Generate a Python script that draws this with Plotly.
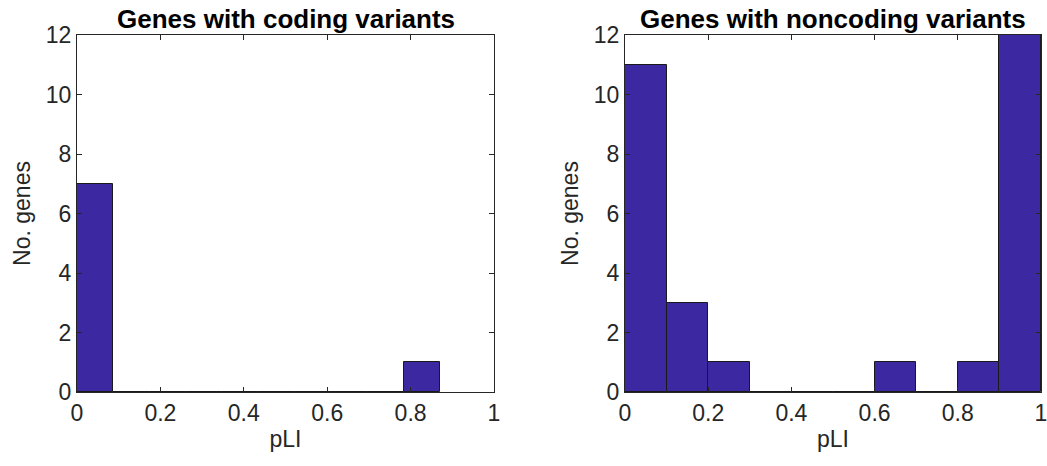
import plotly.graph_objects as go

# Data
coding_edges = [0.0, 0.087, 0.174, 0.261, 0.348, 0.435, 0.522, 0.609, 0.696, 0.783, 0.870]
coding_counts = [7, 0, 0, 0, 0, 0, 0, 0, 0, 1]
noncoding_edges = [0.0, 0.1, 0.2, 0.3, 0.4, 0.5, 0.6, 0.7, 0.8, 0.9, 1.0]
noncoding_counts = [11, 3, 1, 0, 0, 0, 1, 0, 1, 12]
titles = ["Genes with coding variants", "Genes with noncoding variants"]
x_label = "pLI"
y_label = "No. genes"

W, H = 1047, 466
FONT = "Liberation Sans, Arial, Helvetica, sans-serif"
BAR = "#3c28a0"
AX = "#262626"

def centers(edges):
    return [(edges[i] + edges[i + 1]) / 2 for i in range(len(edges) - 1)]

def widths(edges):
    return [edges[i + 1] - edges[i] for i in range(len(edges) - 1)]

fig = go.Figure()
fig.add_trace(go.Bar(x=centers(coding_edges), y=coding_counts, width=widths(coding_edges),
                     marker=dict(color=BAR, line=dict(color="#1a1a1a", width=1)),
                     xaxis="x", yaxis="y", showlegend=False))
fig.add_trace(go.Bar(x=centers(noncoding_edges), y=noncoding_counts, width=widths(noncoding_edges),
                     marker=dict(color=BAR, line=dict(color="#1a1a1a", width=1)),
                     xaxis="x2", yaxis="y2", showlegend=False))

ydom = [1 - 392 / H, 1 - 35 / H]
axcommon = dict(showline=True, linecolor=AX, linewidth=1, mirror="allticks", ticks="inside",
                ticklen=5, tickcolor=AX, showgrid=False, zeroline=False, automargin=False,
                ticklabeloverflow="allow",
                tickfont=dict(family=FONT, size=23, color=AX))
xcommon = dict(axcommon, range=[0, 1], tickvals=[0, 0.2, 0.4, 0.6, 0.8, 1],
               ticktext=["0", "0.2", "0.4", "0.6", "0.8", "1"],
               title=dict(text=x_label, font=dict(family=FONT, size=23, color=AX), standoff=6))
ycommon = dict(axcommon, range=[0, 12], tickvals=[0, 2, 4, 6, 8, 10, 12],
               title=dict(text=y_label, font=dict(family=FONT, size=23, color=AX), standoff=8))

fig.update_layout(
    width=W, height=H,
    margin=dict(l=0, r=0, t=0, b=0, autoexpand=False),
    paper_bgcolor="white", plot_bgcolor="white",
    bargap=0,
    xaxis=dict(xcommon, domain=[77 / W, 494 / W], anchor="y"),
    yaxis=dict(ycommon, domain=ydom, anchor="x"),
    xaxis2=dict(xcommon, domain=[625 / W, 1041 / W], anchor="y2"),
    yaxis2=dict(ycommon, domain=ydom, anchor="x2"),
    annotations=[
        dict(text="<b>" + titles[0] + "</b>", x=(77 + 494) / 2 / W, y=1 - 19 / H,
             xref="paper", yref="paper", showarrow=False, xanchor="center", yanchor="middle",
             font=dict(family=FONT, size=26, color="black")),
        dict(text="<b>" + titles[1] + "</b>", x=(625 + 1041) / 2 / W, y=1 - 19 / H,
             xref="paper", yref="paper", showarrow=False, xanchor="center", yanchor="middle",
             font=dict(family=FONT, size=26, color="black")),
    ],
)

fig.write_html("out.html")
